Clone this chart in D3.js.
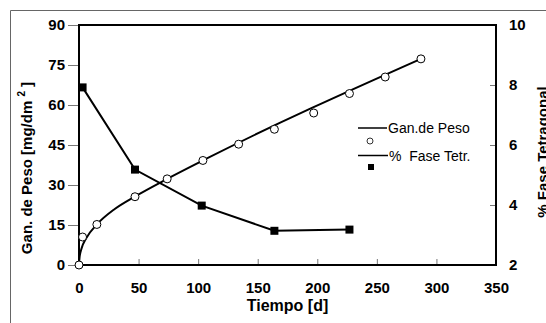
<!DOCTYPE html>
<html><head><meta charset="utf-8">
<script src="https://cdn.jsdelivr.net/npm/d3@7"></script>
<style>body{margin:0;background:#fff}svg{display:block}text{font-family:"Liberation Sans",Arial,sans-serif}</style>
</head><body>
<svg id="c" width="546" height="323"></svg>
<script>
// Data
const gainTime = [0, 3, 15, 47, 74, 104, 134, 164, 197, 227, 257, 287];
const gainValue = [0, 10.5, 15.2, 25.6, 32.3, 39.2, 45.3, 50.9, 57.0, 64.3, 70.5, 77.3];
const fitTime = [0, 0.5, 2, 6, 15, 30, 47, 74, 104, 287];
const fitValue = [0, 3, 6, 10, 15.2, 21, 25.7, 32.3, 39.2, 77.3];
const tetrTime = [3, 47, 103, 164, 227];
const tetrValue = [7.92, 5.18, 3.98, 3.14, 3.18];
const xTicks = [0, 50, 100, 150, 200, 250, 300, 350];
const yLeftTicks = [0, 15, 30, 45, 60, 75, 90];
const yRightTicks = [2, 4, 6, 8, 10];
const legendLabels = ["Gan.de Peso", "%  Fase Tetr."];

const svg = d3.select("#c");
const L = 79, R = 496, T = 25, B = 265;
const x = d3.scaleLinear().domain([0, 350]).range([L, R]);
const yL = d3.scaleLinear().domain([0, 90]).range([B, T]);
const yR = d3.scaleLinear().domain([2, 10]).range([B, T]);

// outer frame (partially cropped)
svg.append("path").attr("d", "M10.5,323 V10.5 H546").attr("fill", "none").attr("stroke", "#666").attr("stroke-width", 1);

// axes
const ax = svg.append("g").attr("transform", `translate(0,${B})`)
  .call(d3.axisBottom(x).tickValues(xTicks).tickSize(-6).tickPadding(17).tickFormat(d3.format("d")));
const ayl = svg.append("g").attr("transform", `translate(${L},0)`)
  .call(d3.axisLeft(yL).tickValues(yLeftTicks).tickSize(11).tickPadding(3));
const ayr = svg.append("g").attr("transform", `translate(${R},0)`)
  .call(d3.axisRight(yR).tickValues(yRightTicks).tickSize(-6).tickPadding(13));
[ax, ayl, ayr].forEach(g => {
  g.select(".domain").remove();
  g.selectAll(".tick line").attr("stroke", "#777").attr("stroke-width", 1);
  g.selectAll(".tick text").attr("font-size", 15).attr("font-weight", "bold").attr("fill", "#000");
});
ax.selectAll(".tick").filter(d => d === 0 || d === 350).select("line").remove();
// plot box
svg.append("rect").attr("x", L).attr("y", T).attr("width", R - L).attr("height", B - T)
  .attr("fill", "none").attr("stroke", "#000").attr("stroke-width", 2);

// fitted gain curve
const fit = fitTime.map((t, i) => [t, fitValue[i]]);
svg.append("path").datum(fit)
  .attr("d", d3.line().x(d => x(d[0])).y(d => yL(d[1])).curve(d3.curveMonotoneX))
  .attr("fill", "none").attr("stroke", "#000").attr("stroke-width", 2);

// tetragonal line
const tet = tetrTime.map((t, i) => [t, tetrValue[i]]);
svg.append("path").datum(tet)
  .attr("d", d3.line().x(d => x(d[0])).y(d => yR(d[1])))
  .attr("fill", "none").attr("stroke", "#000").attr("stroke-width", 2);

// gain points
svg.selectAll("circle.g").data(gainTime.map((t, i) => [t, gainValue[i]])).join("circle")
  .attr("cx", d => x(d[0])).attr("cy", d => yL(d[1])).attr("r", 4)
  .attr("fill", "#fff").attr("stroke", "#000").attr("stroke-width", 1);

// tetr squares
svg.selectAll("rect.s").data(tet).join("rect")
  .attr("x", d => x(d[0]) - 4).attr("y", d => yR(d[1]) - 4).attr("width", 8).attr("height", 8)
  .attr("fill", "#000");

// legend
const lg = svg.append("g");
lg.append("line").attr("x1", 358).attr("x2", 387).attr("y1", 128).attr("y2", 128).attr("stroke", "#000").attr("stroke-width", 1.5);
lg.append("text").attr("x", 388).attr("y", 133).attr("font-size", 14).text(legendLabels[0]);
lg.append("circle").attr("cx", 370).attr("cy", 141).attr("r", 3).attr("fill", "#fff").attr("stroke", "#000").attr("stroke-width", 0.8);
lg.append("line").attr("x1", 358).attr("x2", 388).attr("y1", 155.5).attr("y2", 155.5).attr("stroke", "#000").attr("stroke-width", 1.5);
lg.append("text").attr("x", 389).attr("y", 160.5).attr("font-size", 14).attr("xml:space", "preserve").style("white-space", "pre").text(legendLabels[1]);
lg.append("rect").attr("x", 368).attr("y", 164).attr("width", 6).attr("height", 6).attr("fill", "#000");

// axis titles
svg.append("text").attr("x", (L + R) / 2).attr("y", 311).attr("text-anchor", "middle")
  .attr("font-size", 16).attr("font-weight", "bold").text("Tiempo [d]");
const lt = svg.append("text").attr("transform", "translate(32,168) rotate(-90)").attr("text-anchor", "middle")
  .attr("font-size", 15).attr("font-weight", "bold").attr("xml:space", "preserve").style("white-space", "pre");
lt.append("tspan").text("Gan. de Peso [mg/dm ");
lt.append("tspan").attr("font-size", 10).attr("dy", -7).text("2");
lt.append("tspan").attr("dy", 7).text(" ]");
svg.append("text").attr("transform", "translate(548,152) rotate(-90)").attr("text-anchor", "middle")
  .attr("font-size", 15).attr("font-weight", "bold").text("% Fase Tetragonal");
</script>
</body></html>
